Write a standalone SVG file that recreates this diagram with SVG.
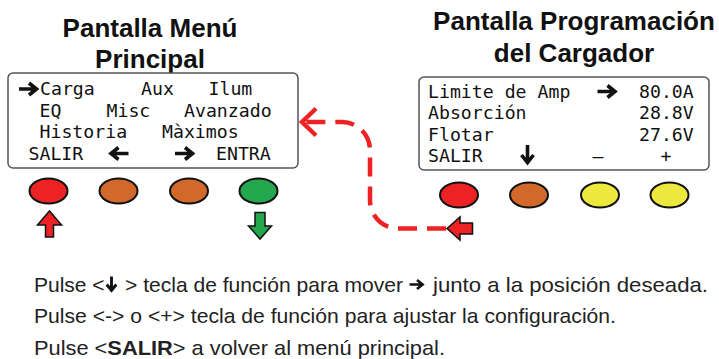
<svg xmlns="http://www.w3.org/2000/svg" width="719" height="359" viewBox="0 0 719 359">
<style>
.title{font-family:"Liberation Sans",Arial,sans-serif;font-weight:bold;font-size:26px;fill:#111;text-anchor:middle}
.lcd{font-family:"DejaVu Sans Mono","Liberation Mono",monospace;font-size:18.2px;fill:#111}
.panel{fill:#fff;stroke:#555;stroke-width:1.5}
.btn{stroke:#111;stroke-width:2}
.red{fill:#ED2224}.orange{fill:#D2692A}.green{fill:#23A84F}.yellow{fill:#EDE83E}
.blk{stroke:#111;stroke-width:1.5;stroke-linejoin:miter}
.ins{font-family:"Liberation Sans",Arial,sans-serif;font-size:21px;fill:#222}
.conn{fill:none;stroke:#ED2224;stroke-width:4.5}
</style>
<defs>
<path id="arw" d="M-10 0H6M0-6L7.5 0L0 6" fill="none" stroke="#111" stroke-width="3.6"/>
</defs>

<g id="title-main">
<text class="title" x="150" y="36.5">Pantalla Menú</text>
<text class="title" x="150" y="68">Principal</text>
</g>
<g id="title-prog">
<text class="title" x="574" y="30">Pantalla Programación</text>
<text class="title" x="574" y="61.5">del Cargador</text>
</g>

<g id="panel-main">
<rect class="panel" x="8" y="73" width="290" height="95" rx="5"/>
<use href="#arw" transform="translate(29,89)"/>
<text class="lcd" x="40" y="95">Carga</text>
<text class="lcd" x="141" y="95">Aux</text>
<text class="lcd" x="208.5" y="95">Ilum</text>
<text class="lcd" x="39.5" y="116.5">EQ</text>
<text class="lcd" x="106.5" y="116.5">Misc</text>
<text class="lcd" x="184" y="116.5">Avanzado</text>
<text class="lcd" x="39.5" y="138">Historia</text>
<text class="lcd" x="162" y="138">Màximos</text>
<text class="lcd" x="28.5" y="159.5">SALIR</text>
<use href="#arw" transform="translate(118.5,153.5) rotate(180)"/>
<use href="#arw" transform="translate(185,153.5)"/>
<text class="lcd" x="216" y="159.5">ENTRA</text>
</g>

<g id="panel-prog">
<rect class="panel" x="419" y="77" width="290" height="93" rx="5"/>
<text class="lcd" x="428" y="97.5">Limite de Amp</text>
<use href="#arw" transform="translate(607.5,91.5)"/>
<text class="lcd" x="639" y="97.5">80.0A</text>
<text class="lcd" x="428" y="119">Absorción</text>
<text class="lcd" x="639" y="119">28.8V</text>
<text class="lcd" x="428" y="140.5">Flotar</text>
<text class="lcd" x="639" y="140.5">27.6V</text>
<text class="lcd" x="428" y="162">SALIR</text>
<use href="#arw" transform="translate(527.5,155) rotate(90)"/>
<text class="lcd" x="598" y="162" text-anchor="middle">–</text>
<text class="lcd" x="666" y="162" text-anchor="middle">+</text>
</g>

<g id="buttons-main">
<ellipse class="btn red" cx="48.5" cy="191" rx="19" ry="12.5"/>
<ellipse class="btn orange" cx="118.5" cy="191" rx="19" ry="12.5"/>
<ellipse class="btn orange" cx="189" cy="191" rx="19" ry="12.5"/>
<ellipse class="btn green" cx="258.5" cy="191" rx="19" ry="12.5"/>
</g>
<g id="buttons-prog">
<ellipse class="btn red" cx="459" cy="195" rx="19" ry="12.5"/>
<ellipse class="btn orange" cx="529" cy="195" rx="19" ry="12.5"/>
<ellipse class="btn yellow" cx="600" cy="195" rx="19" ry="12.5"/>
<ellipse class="btn yellow" cx="669.5" cy="195" rx="19" ry="12.5"/>
</g>

<g id="arrow-up">
<polygon class="blk red" points="49.5,211 61.5,225 53.5,225 53.5,237 45.5,237 45.5,225 37.5,225"/>
</g>
<g id="arrow-down">
<polygon class="blk green" points="255,212.5 265,212.5 265,226 271.5,226 260,239 248.5,226 255,226"/>
</g>
<g id="arrow-left">
<polygon class="blk red" points="447,228.5 460,217 460,223 472.5,223 472.5,234 460,234 460,240"/>
</g>

<g id="connectors">
<path class="conn" stroke-dasharray="19 10" d="M446 228.5H398A28 28 0 0 1 370 200.5V150A28 28 0 0 0 342 122H303"/>
<path class="conn" d="M316 108.5L302 122L316 135.5"/>
</g>

<g id="instructions">
<text class="ins" x="34" y="291.5">Pulse &lt;</text>
<use href="#arw" transform="translate(111.5,284.5) rotate(90) scale(0.8)"/>
<text class="ins" x="125" y="291.5" textLength="278" lengthAdjust="spacingAndGlyphs">&gt; tecla de función para mover</text>
<use href="#arw" transform="translate(417,284.5) scale(0.74)"/>
<text class="ins" x="433" y="291.5" textLength="275" lengthAdjust="spacingAndGlyphs">junto a la posición deseada.</text>
<text class="ins" x="34" y="323" textLength="582" lengthAdjust="spacingAndGlyphs">Pulse &lt;-&gt; o &lt;+&gt; tecla de función para ajustar la configuración.</text>
<text class="ins" x="34" y="354.5" textLength="411" lengthAdjust="spacingAndGlyphs">Pulse &lt;<tspan font-weight="bold">SALIR</tspan>&gt; a volver al menú principal.</text>
</g>
</svg>
